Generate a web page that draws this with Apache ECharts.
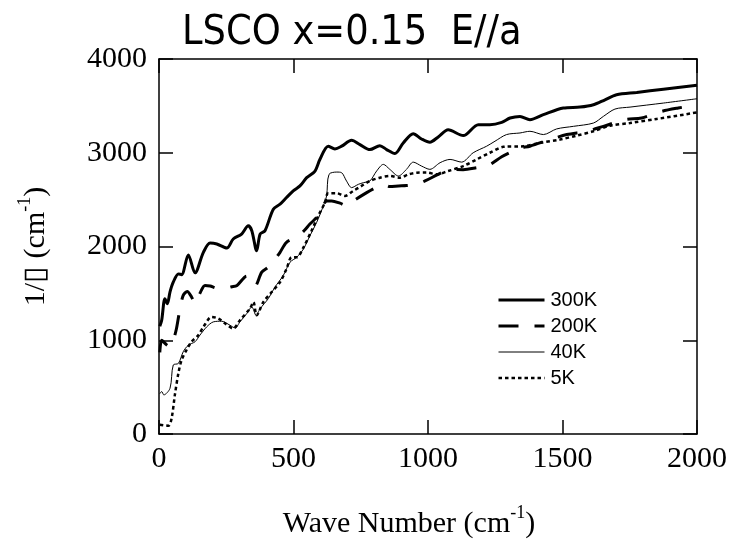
<!DOCTYPE html>
<html><head><meta charset="utf-8">
<script src="https://cdn.jsdelivr.net/npm/echarts@6/dist/echarts.min.js"></script>
<style>html,body{margin:0;padding:0;background:#fff}#c{width:735px;height:544px}</style>
</head><body><div id="c"></div>
<script>
const chartTitle = 'LSCO x=0.15  E//a';
const seriesNames = ['300K', '200K', '40K', '5K'];
const xTickLabels = ['0', '500', '1000', '1500', '2000'];
const yTickLabels = ['0', '1000', '2000', '3000', '4000'];

const x300 = [3, 10, 22, 31, 41, 53, 72, 84, 109, 134, 165, 190, 215, 252, 276, 307, 332, 345, 363, 376, 394, 425, 450, 474, 499, 524, 549, 580, 598, 629, 654, 679, 716, 747, 784, 821, 846, 877, 908, 945, 976, 1007, 1038, 1075, 1131, 1187, 1230, 1274, 1305, 1342, 1379, 1429, 1503, 1565, 1615, 1658, 1701, 1776, 1875, 2000];
const y300 = [1150, 1213, 1443, 1390, 1517, 1620, 1708, 1700, 1910, 1719, 1938, 2037, 2027, 1984, 2080, 2133, 2221, 2168, 1956, 2133, 2168, 2398, 2451, 2522, 2593, 2646, 2734, 2805, 2928, 3070, 3041, 3070, 3133, 3087, 3034, 3076, 3034, 2992, 3105, 3204, 3147, 3112, 3169, 3245, 3183, 3300, 3300, 3324, 3371, 3388, 3353, 3406, 3477, 3487, 3512, 3565, 3618, 3643, 3678, 3721];

const x200 = [3, 10, 25, 40, 55, 65, 78, 90, 105, 121, 134, 152, 171, 190, 215, 246, 270, 290, 326, 345, 357, 382, 406, 430, 450, 474, 512, 540, 561, 586, 605, 623, 642, 673, 697, 722, 772, 800, 834, 858, 890, 920, 958, 989, 1045, 1082, 1131, 1180, 1224, 1274, 1310, 1342, 1379, 1454, 1516, 1590, 1652, 1732, 1794, 1869, 1930, 2000];
const y200 = [870, 1000, 960, 930, 1020, 1125, 1337, 1478, 1521, 1461, 1390, 1500, 1585, 1578, 1556, 1556, 1570, 1585, 1684, 1620, 1578, 1726, 1779, 1860, 1938, 2045, 2098, 2170, 2239, 2310, 2400, 2486, 2486, 2462, 2434, 2486, 2575, 2620, 2663, 2640, 2646, 2650, 2663, 2699, 2780, 2823, 2820, 2840, 2865, 2957, 3010, 3052, 3070, 3141, 3194, 3229, 3282, 3353, 3371, 3441, 3477, 3510];

const x40 = [3, 10, 18, 41, 53, 72, 90, 109, 134, 152, 177, 202, 233, 264, 283, 301, 326, 345, 361, 376, 406, 431, 462, 487, 512, 537, 561, 586, 611, 623, 632, 661, 679, 697, 716, 741, 760, 784, 809, 834, 858, 890, 920, 945, 976, 1007, 1045, 1082, 1125, 1168, 1218, 1249, 1292, 1342, 1379, 1429, 1478, 1541, 1615, 1652, 1695, 1751, 1875, 2000];
const y40 = [430, 453, 417, 488, 736, 753, 877, 948, 984, 1054, 1142, 1196, 1203, 1160, 1131, 1196, 1284, 1355, 1266, 1337, 1443, 1567, 1691, 1832, 1885, 1974, 2115, 2257, 2434, 2540, 2769, 2794, 2787, 2699, 2628, 2663, 2681, 2699, 2805, 2876, 2823, 2752, 2823, 2900, 2858, 2823, 2894, 2929, 2900, 3000, 3070, 3123, 3194, 3211, 3229, 3194, 3254, 3282, 3317, 3388, 3466, 3487, 3530, 3576];

const x5 = [3, 35, 47, 59, 72, 84, 102, 121, 146, 165, 196, 221, 246, 276, 301, 338, 351, 363, 388, 419, 450, 474, 493, 512, 537, 567, 592, 617, 629, 661, 691, 722, 753, 784, 821, 858, 896, 927, 958, 995, 1032, 1075, 1131, 1181, 1230, 1280, 1355, 1416, 1491, 1553, 1615, 1677, 1751, 1850, 2000];
const y5 = [99, 88, 170, 417, 647, 789, 895, 984, 1054, 1142, 1249, 1231, 1178, 1125, 1214, 1337, 1408, 1266, 1408, 1514, 1620, 1761, 1885, 1885, 1991, 2168, 2327, 2469, 2568, 2568, 2540, 2593, 2646, 2699, 2734, 2752, 2734, 2769, 2787, 2790, 2770, 2805, 2858, 2929, 3000, 3063, 3070, 3105, 3141, 3183, 3229, 3289, 3317, 3360, 3430];

function pairs(xs, ys) { return xs.map((x, i) => [x, ys[i]]); }

const chart = echarts.init(document.getElementById('c'), null, { renderer: 'canvas' });
const black = '#000';
const axLine = { show: true, onZero: false, lineStyle: { color: black, width: 1.5 } };
const axTick = { show: true, inside: true, length: 14, lineStyle: { color: black, width: 1.5 } };
const tickFont = { fontFamily: 'Liberation Serif', fontSize: 30, color: black };
const supStyle = { fontFamily: 'Liberation Serif', fontSize: 18, color: black, padding: [0, 0, 22, 0] };

const styles = {
  '300K': { color: black, width: 3, type: 'solid' },
  '200K': { color: black, width: 3, type: [20, 16] },
  '40K': { color: black, width: 1, type: 'solid' },
  '5K': { color: black, width: 2.5, type: [3.5, 3] }
};

chart.setOption({
  animation: false,
  backgroundColor: '#fff',
  title: {
    text: chartTitle, left: 177, top: 8,
    textStyle: { fontFamily: "'Liberation Sans Narrow', 'DejaVu Sans Condensed', 'Roboto Condensed', 'DejaVu Sans'", fontSize: 41, fontWeight: 'normal', color: black }
  },
  grid: { left: 159, right: 38, top: 59, bottom: 108, containLabel: false },
  legend: {
    data: seriesNames.map(n => ({ name: n, lineStyle: styles[n], itemStyle: { opacity: 0 } })),
    orient: 'vertical', left: 497, top: 290,
    itemWidth: 46, itemHeight: 14, itemGap: 6, padding: 0,
    itemStyle: { opacity: 0 },
    textStyle: { fontFamily: 'Liberation Sans', fontSize: 20, color: black, lineHeight: 20, padding: [0, 0, 0, 1] }
  },
  xAxis: [{
    type: 'value', min: 0, max: 2000, interval: 500, position: 'bottom',
    axisLine: axLine, axisTick: axTick, splitLine: { show: false },
    axisLabel: Object.assign({ margin: 10, formatter: (v) => xTickLabels[Math.round(v / 500)] }, tickFont),
    name: 'Wave Number (cm{sup|-1})', nameLocation: 'middle', nameGap: 70,
    nameTextStyle: {
      fontFamily: 'Liberation Serif', fontSize: 30, color: black, padding: [0, 38, 0, 0],
      rich: { sup: supStyle }
    }
  }, {
    type: 'value', min: 0, max: 2000, interval: 500, position: 'top',
    axisLine: axLine, axisTick: axTick, splitLine: { show: false }, axisLabel: { show: false }
  }],
  yAxis: [{
    type: 'value', min: 0, max: 4000, interval: 1000, position: 'left',
    axisLine: axLine, axisTick: axTick, splitLine: { show: false },
    axisLabel: Object.assign({ margin: 12, formatter: (v) => yTickLabels[Math.round(v / 1000)] }, tickFont),
    name: '1/\u25AF (cm{sup|-1})', nameLocation: 'middle', nameGap: 103, nameRotate: 90,
    nameTextStyle: {
      fontFamily: 'Liberation Serif', fontSize: 30, color: black,
      rich: { sup: supStyle }
    }
  }, {
    type: 'value', min: 0, max: 4000, interval: 1000, position: 'right',
    axisLine: axLine, axisTick: axTick, splitLine: { show: false }, axisLabel: { show: false }
  }],
  series: seriesNames.map((n, i) => ({
    name: n, type: 'line',
    data: [pairs(x300, y300), pairs(x200, y200), pairs(x40, y40), pairs(x5, y5)][i],
    symbol: 'none', showSymbol: false, smooth: 0.3,
    lineStyle: styles[n], itemStyle: { color: black }
  }))
});
</script></body></html>
